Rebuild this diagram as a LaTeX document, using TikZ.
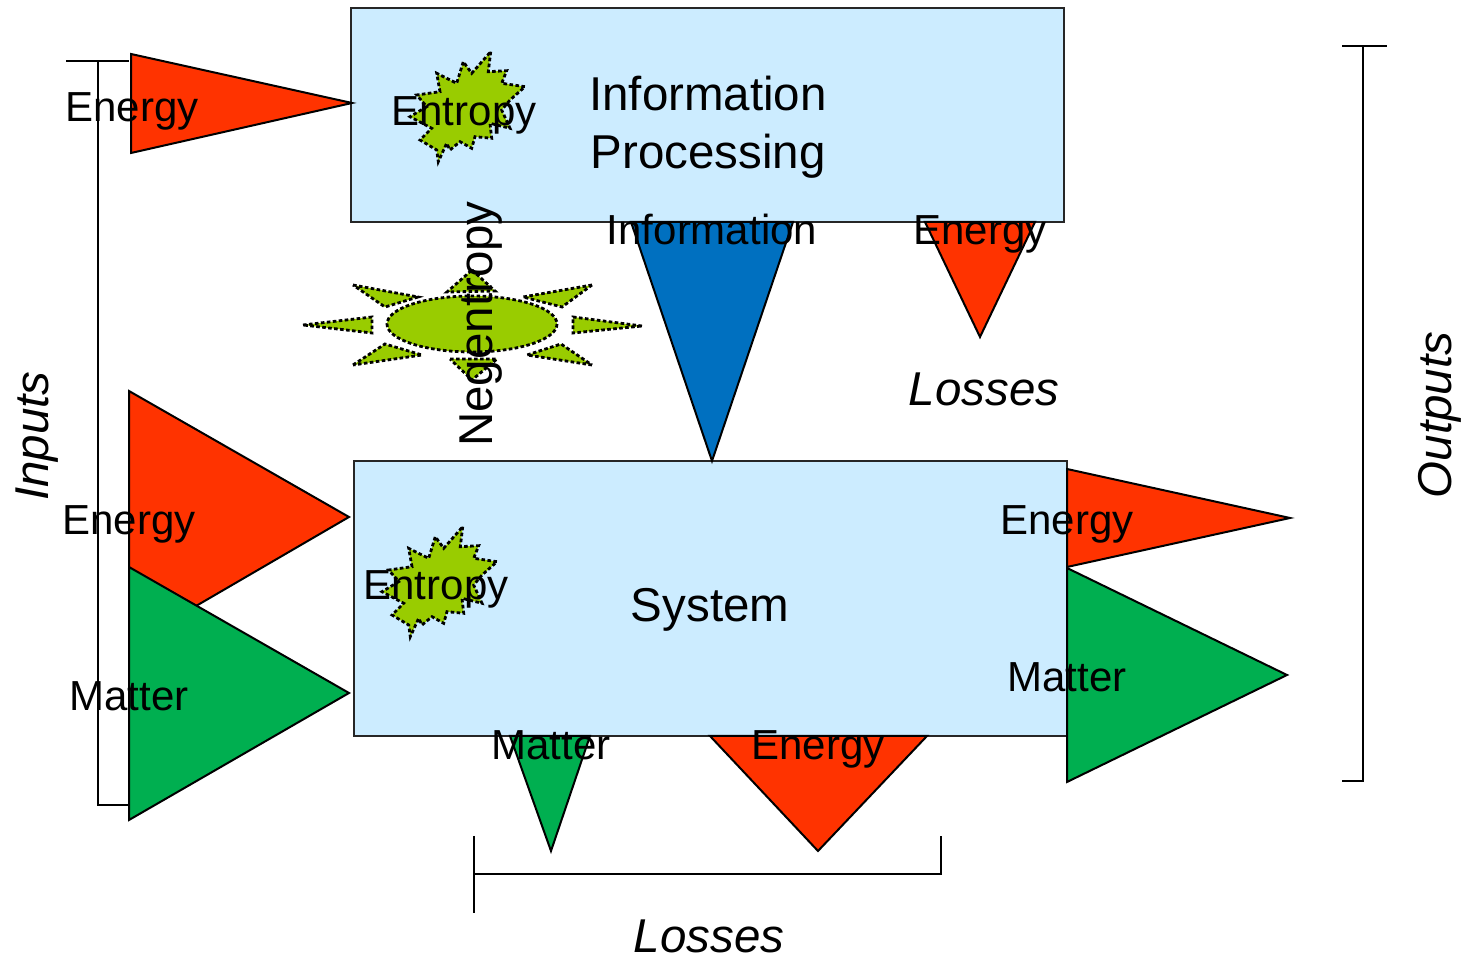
\documentclass[tikz,border=0pt]{standalone}
\usepackage{fontspec}
\setmainfont{Liberation Sans}
\usepackage{xcolor}
\usepackage{tikz}
\usetikzlibrary{positioning,calc}

\definecolor{sysblue}{HTML}{CCECFF}
\definecolor{energyred}{HTML}{FF3300}
\definecolor{mattergreen}{HTML}{00AF50}
\definecolor{infoblue}{HTML}{0070C0}
\definecolor{burstgreen}{HTML}{99CC00}

% jagged entropy star, points relative to its centre
\newcommand{\entropyburst}[1]{%
  \draw[burst, shift={#1}]
    (20.7,-55.3) -- (18.3,-35.3) -- (36.7,-36.3) -- (31.7,-23.7) -- (55,-20.3)
    -- (40,-7) -- (31.7,3) -- (40,21.3) -- (20,16.3) -- (21.7,31.3)
    -- (5,29.7) -- (1.7,41.3) -- (-10,34.7) -- (-20,43) -- (-23.3,36.3)
    -- (-31.7,54.7) -- (-33.3,43) -- (-50,33) -- (-38.3,21.3) -- (-60,9.7)
    -- (-43.3,-0.3) -- (-53.3,-12) -- (-30,-15.3) -- (-33.3,-33.7) -- (-13.3,-23.7)
    -- (-6.7,-45.3) -- (1.7,-33.7) -- cycle;}

\begin{document}
\begin{tikzpicture}[
    x=0.5pt, y=-0.5pt,
    box/.style={draw=black!85, line width=0.75pt, fill=sysblue, inner sep=0pt},
    energy/.style={draw=black, line width=1pt, fill=energyred, line join=miter},
    matter/.style={draw=black, line width=1pt, fill=mattergreen},
    info/.style={draw=black, line width=1pt, fill=infoblue},
    burst/.style={draw=black, line width=1.4pt, dash pattern=on 1.8pt off 1.2pt, fill=burstgreen},
    bracket/.style={draw=black, line width=1pt},
    lbl/.style={inner sep=0pt, anchor=base, font=\fontsize{21}{25}\selectfont},
    big/.style={inner sep=0pt, font=\fontsize{23.75}{29}\selectfont},
    side/.style={big, anchor=base, font=\fontsize{23.75}{29}\selectfont\itshape},
  ]
    \useasboundingbox (0,0) rectangle (1464,961);

    % brackets
    \draw[bracket] (66,61) -- (129,61) (98,61) -- (98,805) -- (129,805);
    \draw[bracket] (1342,46) -- (1387,46) (1363,46) -- (1363,781) -- (1342,781);
    \draw[bracket] (474,836) -- (474,913) (474,874) -- (941,874) -- (941,836);

    % boxes
    \node[box, minimum width=356.5pt, minimum height=107pt] (proc) at (707.5,115) {};
    \node[box, minimum width=356.5pt, minimum height=137.5pt] (sys) at (710.5,598.5) {};

    % flows into the boxes
    \draw[energy] (131,54) -- (131,153) -- (352,103) -- cycle;
    \draw[energy] (129,391) -- (129,645) -- (349,517) -- cycle;
    \draw[matter] (129,567) -- (129,820) -- (349,693) -- cycle;
    \draw[info] (631,222) -- (793,222) -- (712,461) -- cycle;

    % flows out of the boxes
    \draw[energy] (925,222) -- (1035,222) -- (980,337) -- cycle;
    \draw[energy] (1067,469) -- (1067,567) -- (1290,518) -- cycle;
    \draw[matter] (1067,568) -- (1067,782) -- (1287,675) -- cycle;
    \draw[matter] (510,736) -- (590,736) -- (551,851) -- cycle;
    \draw[energy] (710,736) -- (927,736) -- (818,851) -- cycle;

    % entropy stars
    \entropyburst{(470,107)}
    \entropyburst{(442,582)}

    % negentropy sun
    \draw[burst] (472,324) ellipse [x radius=85, y radius=28];
    \draw[burst] (303,325) -- (372,317) -- (372,333) -- cycle;
    \draw[burst] (642,326) -- (573,317) -- (573,333) -- cycle;
    \draw[burst] (353,285) -- (418,297) -- (385,307) -- cycle;
    \draw[burst] (592,285) -- (523,297) -- (562,307) -- cycle;
    \draw[burst] (353,365) -- (385,344) -- (422,355) -- cycle;
    \draw[burst] (592,365) -- (527,355) -- (561,344) -- cycle;
    \draw[burst] (472,270) -- (495,291) -- (447,292) -- cycle;
    \draw[burst] (450,359) -- (497,359) -- (472,380) -- cycle;

    % labels
    \node[lbl] (tlE) at (132,122) {Energy};
    \node[lbl] (tEnt) at (464,126) {Entropy};
    \node[big, align=center] (procT) at (708,127) {Information\\Processing};
    \node[lbl] (infoT) at (712,245) {Information};
    \node[lbl] (tlossE) at (980,245) {Energy};
    \node[side] (tLoss) at (984,406) {Losses};
    \node[big, anchor=base, rotate=90] (negT) at (492,324) {Negentropy};
    \node[side, rotate=90] (inT) at (48,436) {Inputs};
    \node[side, rotate=90] (outT) at (1451,415) {Outputs};

    \node[lbl] (inE) at (129,535) {Energy};
    \node[lbl] (inM) at (129,711) {Matter};
    \node[lbl] (bEnt) at (436,600) {Entropy};
    \node[big, anchor=base] (sysT) at (710,622) {System};
    \node[lbl] (outE) at (1067,535) {Energy};
    \node[lbl] (outM) at (1067,692) {Matter};
    \node[lbl] (lossM) at (551,760) {Matter};
    \node[lbl] (lossE) at (818,760) {Energy};
    \node[side] (bLoss) at (709,953) {Losses};
\end{tikzpicture}
\end{document}
